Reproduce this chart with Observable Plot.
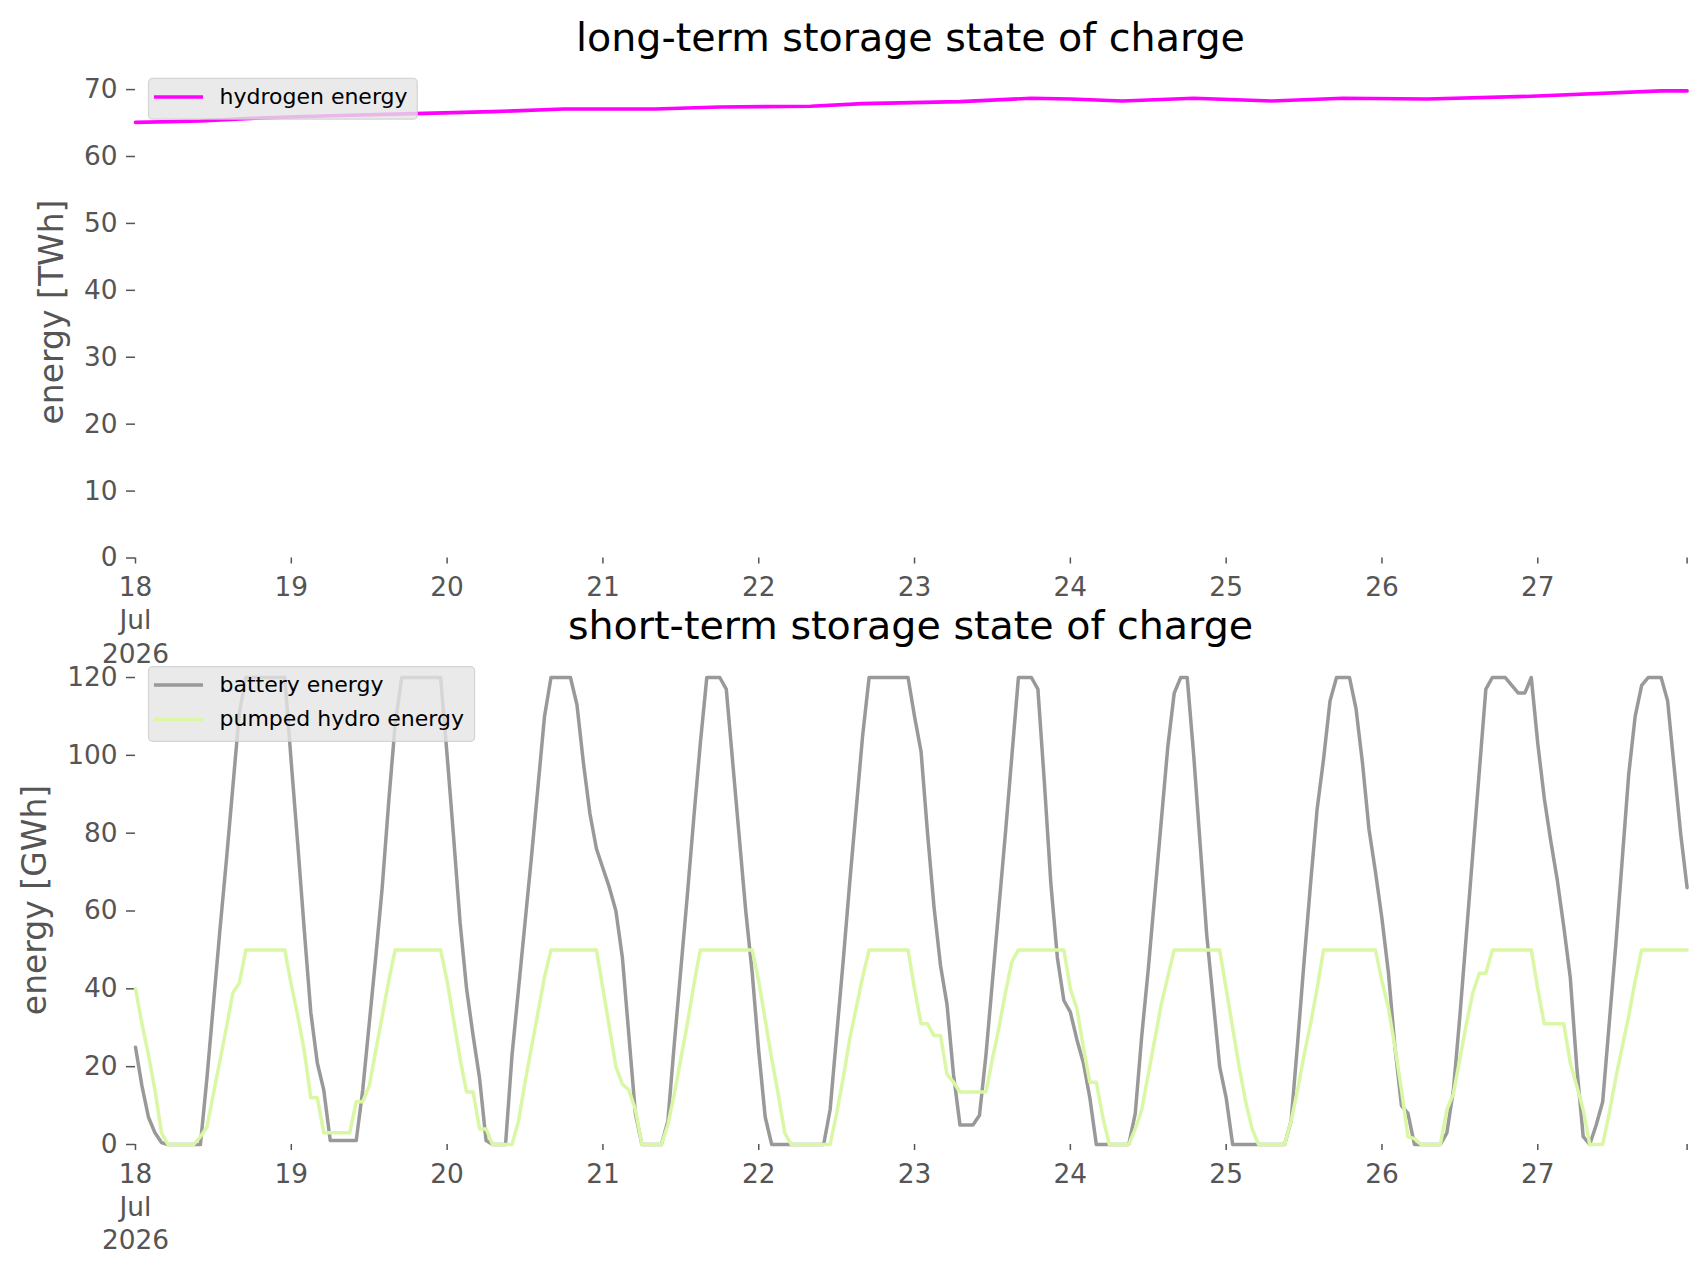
<!DOCTYPE html>
<html>
<head>
<meta charset="utf-8">
<script src="https://cdn.jsdelivr.net/npm/d3@7"></script>
<script src="https://cdn.jsdelivr.net/npm/@observablehq/plot@0.6"></script>
<style>
html, body { margin: 0; padding: 0; background: #ffffff; }
#fig { position: relative; width: 1706px; height: 1277px; overflow: hidden; background: #ffffff; }
</style>
</head>
<body>
<div id="fig"></div>
<script>
// ---------------- data (hours after 18 Jul 2026 00:00 UTC) ----------------
const hydrogenHours = [0, 10, 20, 30, 43, 55, 66, 80, 90, 104, 112, 127, 138, 144, 152, 163, 175, 186, 199, 215, 235, 239];
const hydrogenTWh   = [65.1, 65.3, 65.8, 66.1, 66.4, 66.7, 67.1, 67.1, 67.4, 67.5, 67.9, 68.2, 68.7, 68.6, 68.3, 68.7, 68.3, 68.7, 68.6, 69.0, 69.8, 69.8];

const batteryHours = [0,1,2,3,4,5,10,11,12,13,14,15,16,17,23,24,25,26,27,28,29,30,34,35,36,37,38,39,40,41,47,48,49,50,51,52,53,54,55,57,58,59,60,61,62,63,64,67,68,69,70,71,72,73,74,75,76,77,78,81,82,83,84,85,86,87,88,90,91,92,93,94,95,96,97,98,106,107,108,109,110,111,112,113,119,120,121,122,123,124,125,126,127,129,130,131,132,133,134,135,136,138,139,140,141,142,143,144,145,146,147,148,153,154,155,156,157,158,159,160,161,162,163,164,165,166,167,168,169,177,178,179,180,181,182,183,184,185,187,188,189,190,191,192,193,194,195,196,197,201,202,203,204,205,206,207,208,209,211,212,213,214,215,216,217,218,219,220,221,222,223,224,225,226,227,228,229,230,231,232,233,235,236,237,238,239];
const batteryGWh   = [25,15,7,3,0.5,0,0,17,36,55,73,92,111,120,120,98,77,55,34,21,14,1,1,14,31,48,66,88,108,120,120,100,79,57,40,28,17,1,0,0,23,40,57,74,92,110,120,120,113,98,85,76,71,66,60,48,28,8,0,0,6,26,45,64,84,103,120,120,117,98,79,60,44,24,7,0,0,9,28,47,67,86,105,120,120,110,101,80,61,46,36,18,5,5,7.5,23,42,61,80,100,120,120,117,93,67,48,37,34,27,21,12,0,0,8,28,45,64,83,102,116,120,120,100,77,54,37,20,12,0,0,6,26,47,67,86,99,114,120,120,112,98,81,70,58,44,25,10,8,0,0,3,14,33,54,75,96,117,120,120,118,116,116,120,103,89,78,68,56,43,20,2,0,5,11,31,51,73,95,110,118,120,120,114,97,80,66];

const pumpedHours = [0,1,2,3,4,5,9,10,11,12,13,14,15,16,17,23,24,25,26,27,28,29,33,34,35,36,37,38,39,40,47,48,49,50,51,52,53,54,55,58,59,60,61,62,63,64,71,72,73,74,75,76,77,78,81,82,83,84,85,86,87,95,96,97,98,99,100,101,107,108,109,110,111,112,113,119,120,121,122,123,124,125,126,127,131,132,133,134,135,136,143,144,145,146,147,148,149,150,153,154,155,156,157,158,159,160,167,168,169,170,171,172,173,177,178,179,180,181,182,183,191,192,193,194,195,196,197,198,201,202,203,204,205,206,207,208,209,215,216,217,220,221,222,223,224,226,227,228,229,230,231,232,239];
const pumpedGWh   = [40,31,23,14,3,0,0,2,4.5,13,21.5,30,39,41.5,50,50,41,33,24,12,12,3,3,11,11,15,24,33,42,50,50,42,32,22,13.5,13.5,4,4,0,0,6,16,25,34,43,50,50,40,30,20,15.5,14,9,0,0,5,13,22,31,41,50,50,42,32,22,13,3,0,0,8,17,27,35,43,50,50,40,31,31,28,28,18,16,13.5,13.5,22,30,39,47,50,50,40,35,25,16,16,7,0,0,4,9,18,27,36,43,50,50,40,30,20,11,4,0,0,6,14,23,31,40,50,50,42,35,25,14,2,1.5,0,0,9,13,22,31,39,44,44,50,50,40,31,31,21,15,9,0,0,8,17,25,33,42,50,50];

const startMs = Date.UTC(2026, 6, 18, 0, 0);
const lastHour = 239;
const dayTickHours  = [0, 24, 48, 72, 96, 120, 144, 168, 192, 216, 239];
const dayTickLabels = ["18\nJul\n2026", "19", "20", "21", "22", "23", "24", "25", "26", "27", ""];
const topYTicks    = [0, 10, 20, 30, 40, 50, 60, 70];
const bottomYTicks = [0, 20, 40, 60, 80, 100, 120];

const titles = ["long-term storage state of charge", "short-term storage state of charge"];
const yLabels = ["energy [TWh]", "energy [GWh]"];
const colors = { hydrogen: "#ff00ff", battery: "#999999", pumped: "#d9f7a4" };

// ---------------- helpers ----------------
const toDate = h => new Date(startMs + h * 3600e3);
const rows = (hours, vals) => hours.map((h, i) => ({ t: toDate(h), v: vals[i] }));
const hydrogen = rows(hydrogenHours, hydrogenTWh);
const battery  = rows(batteryHours, batteryGWh);
const pumped   = rows(pumpedHours, pumpedGWh);
const tickDates = dayTickHours.map(toDate);
const labelByTime = new Map(tickDates.map((d, i) => [+d, dayTickLabels[i]]));
const xDomain = [toDate(0), toDate(lastHour)];

const FONT = "DejaVu Sans";
function panel(top, height, mTop, mBottom, yDomain, yTicks, marks) {
  return Plot.plot({
    width: 1706,
    height,
    marginLeft: 135,
    marginRight: 19.4,
    marginTop: mTop,
    marginBottom: mBottom,
    style: {
      position: "absolute", left: "0px", top: top + "px",
      fontFamily: FONT, fontSize: "26.4px", color: "#555555",
      background: "transparent", overflow: "visible"
    },
    x: { type: "utc", domain: xDomain },
    y: { domain: yDomain },
    marks: [
      Plot.axisY({ ticks: yTicks, tickSize: 9, tickPadding: 9, strokeWidth: 1.5, label: null,
                   tickFormat: d => String(d), fontSize: 26.4 }),
      Plot.axisX({ ticks: tickDates, tickSize: 6, tickPadding: 8.5, strokeWidth: 1.5, label: null,
                   tickFormat: d => labelByTime.get(+d) ?? "", fontSize: 26.4, lineHeight: 1.26 }),
      ...marks
    ]
  });
}

const fig = document.getElementById("fig");

const topPlot = panel(0, 640, 67, 82.5, [0, 73.3], topYTicks, [
  Plot.line(hydrogen, { x: "t", y: "v", stroke: colors.hydrogen, strokeWidth: 3.6 })
]);
fig.appendChild(topPlot);

const bottomPlot = panel(600, 677, 56, 133, [0, 125.4], bottomYTicks, [
  Plot.line(battery, { x: "t", y: "v", stroke: colors.battery, strokeWidth: 3.5 }),
  Plot.line(pumped,  { x: "t", y: "v", stroke: colors.pumped,  strokeWidth: 3.5 })
]);
fig.appendChild(bottomPlot);

// ---------------- titles, axis labels, legends (overlay) ----------------
const legendTop = [["hydrogen energy", colors.hydrogen]];
const legendBottom = [["battery energy", colors.battery], ["pumped hydro energy", colors.pumped]];

function legendSvg(x, y, w, h, items, rowY, textY) {
  let s = `<rect x="${x}" y="${y}" width="${w}" height="${h}" rx="4" ry="4" fill="#e5e5e5" fill-opacity="0.8" stroke="#cccccc" stroke-opacity="0.8" stroke-width="1.2"/>`;
  items.forEach(([name, c], i) => {
    s += `<line x1="154" x2="203" y1="${rowY[i]}" y2="${rowY[i]}" stroke="${c}" stroke-width="3.5"/>`;
    s += `<text x="219.5" y="${textY[i]}" font-size="22" fill="#000">${name}</text>`;
  });
  return s;
}

const overlay = `
<svg xmlns="http://www.w3.org/2000/svg" width="1706" height="1277"
  style="position:absolute;left:0;top:0;pointer-events:none;font-family:'${FONT}';overflow:visible">
  <text x="910.5" y="50.5" text-anchor="middle" font-size="39.6" fill="#000">${titles[0]}</text>
  <text x="910.5" y="639" text-anchor="middle" font-size="39.6" fill="#000">${titles[1]}</text>
  <text transform="translate(63,312) rotate(-90)" text-anchor="middle" font-size="33" fill="#555555">${yLabels[0]}</text>
  <text transform="translate(45.5,900) rotate(-90)" text-anchor="middle" font-size="33" fill="#555555">${yLabels[1]}</text>
  ${legendSvg(148.5, 78.4, 268.8, 40.8, legendTop, [97], [103.5])}
  ${legendSvg(148.5, 666.7, 326.1, 74.6, legendBottom, [685, 719.5], [691.5, 725.5])}
</svg>`;
fig.insertAdjacentHTML("beforeend", overlay);
</script>
</body>
</html>
